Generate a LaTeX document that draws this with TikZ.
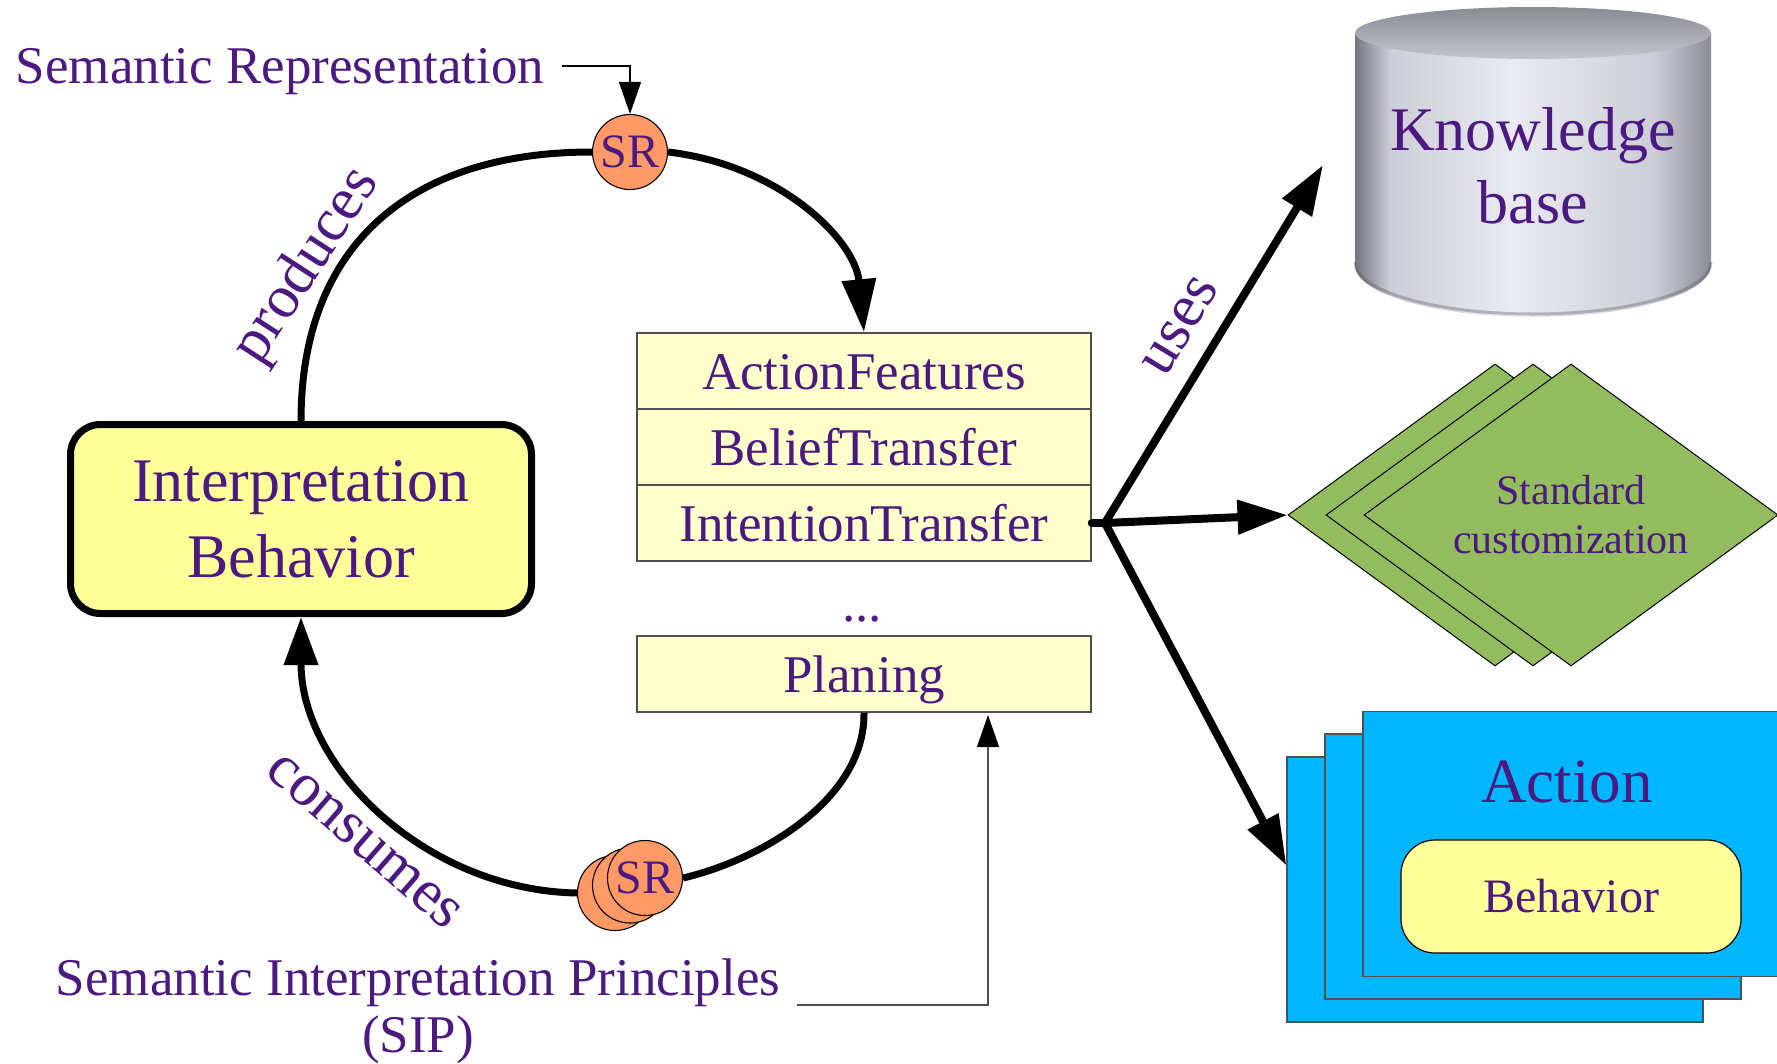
\documentclass[tikz,border=0pt]{standalone}
\usepackage{fontspec}
\setmainfont{Liberation Serif}
\usetikzlibrary{arrows.meta,shapes.geometric,calc}

\definecolor{txt}{RGB}{75,25,128}
\definecolor{ibfill}{RGB}{255,255,153}
\definecolor{rowfill}{RGB}{255,255,204}
\definecolor{rowline}{RGB}{80,80,80}
\definecolor{srfill}{RGB}{255,153,102}
\definecolor{scfill}{RGB}{147,188,94}
\definecolor{acfill}{RGB}{0,183,255}
\definecolor{kbA}{RGB}{118,118,128}
\definecolor{kbB}{RGB}{205,205,215}
\definecolor{kbC}{RGB}{234,234,242}
\definecolor{kbD}{RGB}{140,140,150}
\definecolor{kbTopA}{RGB}{136,139,146}
\definecolor{kbTopB}{RGB}{196,197,204}

\newcommand\fs[2]{\fontsize{#1}{#2}\selectfont}

% side shading of the database cylinder (dark rims, light middle)
\pgfdeclarehorizontalshading{kbbody}{100bp}{color(0bp)=(kbA); color(25bp)=(kbA);
  color(30bp)=(kbB); color(47bp)=(kbC); color(67bp)=(kbB); color(75bp)=(kbD);
  color(100bp)=(kbD)}

\begin{document}
\begin{tikzpicture}[x=1pt,y=-1pt,
  every node/.style={text=txt},
  lbl/.style={inner sep=0pt},
  ibox/.style={draw=black, line width=7pt, fill=ibfill, rounded corners=30pt,
    minimum width=461pt, minimum height=189pt, align=center, inner sep=0pt,
    font=\fs{62}{76}},
  row/.style={draw=rowline, line width=1.5pt, fill=rowfill, minimum width=454pt,
    minimum height=76pt, text height=36pt, text depth=0pt, inner sep=0pt,
    font=\fs{53}{60}},
  srnode/.style={circle, draw=black, line width=1.1pt, fill=srfill,
    minimum size=75pt, inner sep=0pt, font=\fs{48}{50}},
  diam/.style={diamond, draw=black, line width=1pt, fill=scfill, aspect=1.37,
    minimum width=414pt, minimum height=302pt, inner sep=0pt, align=center,
    font=\fs{42}{49}},
  card/.style={rectangle, draw=rowline, line width=1.2pt, fill=acfill,
    minimum width=416pt, minimum height=265pt},
  behbox/.style={draw=black, line width=1.2pt, fill=ibfill, rounded corners=34pt,
    minimum width=340pt, minimum height=113pt, inner sep=0pt, font=\fs{48}{50}},
  rotlbl/.style={inner sep=0pt, font=\fs{61}{64}},
  loop/.style={draw=black, line width=7pt},
  fat/.style={draw=black, line width=8pt, line cap=round},
  bigtip/.style={-{Triangle[length=#1,width=33pt]}},
  thinarrow/.style={line width=1.3pt,
    -{Triangle[length=32pt,width=22pt,color=black,fill=black]}}
]
\useasboundingbox (0,0) rectangle (1777,1063);

% ---------- knowledge base cylinder ----------
\shade[shading=kbbody]
  (1355,33) -- (1355,265)
  .. controls (1355,293.7) and (1434.7,317) .. (1533,317)
  .. controls (1631.3,317) and (1711,293.7) .. (1711,265)
  -- (1711,33) -- cycle;
\draw[kbA!70!black, line width=3pt, opacity=0.35]
  (1355,262) .. controls (1355,291) and (1434.7,314) .. (1533,314)
  .. controls (1631.3,314) and (1711,291) .. (1711,262);
\shade[top color=kbTopA, bottom color=kbTopB] (1533,33) ellipse [x radius=178, y radius=26];
\node[lbl, font=\fs{62}{73}, align=center] (kb) at (1533,165.5) {Knowledge\\base};

% ---------- standard customization stack ----------
\node[diam] (sc3) at (1495,515) {};
\node[diam] (sc2) at (1533,515) {};
\node[diam] (sc1) at (1571,515) {Standard\\customization};

% ---------- action stack ----------
\node[card] (ac3) at (1495,889.5) {};
\node[card] (ac2) at (1533,866.5) {};
\node[card] (ac1) at (1571,844) {};
\node[lbl, font=\fs{63}{70}, anchor=base] (actlbl) at (1567,802) {Action};
\node[behbox] (beh) at (1571,896.5) {Behavior};

% ---------- interpretation behaviour ----------
\node[ibox] (ib) at (301,519) {Interpretation\\Behavior};

% ---------- feature boxes ----------
\node[row] (af) at (864,371) {ActionFeatures};
\node[row] (bt) at (864,447) {BeliefTransfer};
\node[row] (it) at (864,523) {IntentionTransfer};
\node[lbl, font=\fs{53}{60}, anchor=base] (dots) at (862,621) {...};
\node[row] (pl) at (864,674) {Planing};

% ---------- semantic representations ----------
\node[srnode] (srt) at (630,152) {SR};
\node[srnode] (srb) at (615,893) {};
\node[srnode] (srm) at (630,885.5) {};
\node[srnode] (srf) at (645,878) {SR};

% ---------- text labels ----------
\node[lbl, font=\fs{53}{60}, anchor=base] (semrep) at (280,83) {Semantic Representation};
\node[lbl, font=\fs{53}{57}, align=center] (sip) at (418,1011)
  {Semantic Interpretation Principles\\(SIP)};
\node[rotlbl, rotate=57] (prod) at (307,266) {produces};
\node[rotlbl, rotate=-41] (cons) at (364,842) {consumes};
\node[rotlbl, rotate=58.7] (uses) at (1181,326) {uses};

% ---------- cycle ----------
\draw[loop] (ib.north) .. controls (301,249) and (406,152) .. (srt.west);
\draw[loop, bigtip=53pt] (srt.east) .. controls (780,165) and (855,240) .. (af.north);
\draw[loop] (pl.south) .. controls (865,800) and (760,860) .. (srf.east);
\draw[loop, bigtip=48pt] (srb.west) .. controls (425,890) and (301,767) .. (ib.south);

% ---------- pointers from the captions ----------
\coordinate (srin) at (562,66);
\draw[thinarrow, draw=black] (srin) -| (srt.north);
\coordinate (sipout) at (797,1005);
\coordinate (plin) at (988,715);
\draw[thinarrow, draw=rowline] (sipout) -| (plin);

% ---------- uses ----------
\coordinate (hub) at (1105,523);
\coordinate (kbtip) at (1323,165);
\draw[fat] (it.east) -- (hub);
\draw[fat, bigtip=50pt] (hub) -- (kbtip);
\draw[fat, bigtip=50pt] (hub) -- (sc3.west);
\draw[fat, bigtip=50pt] (hub) -- ($(ac3.north west)!0.41!(ac3.south west)$);
\end{tikzpicture}
\end{document}
